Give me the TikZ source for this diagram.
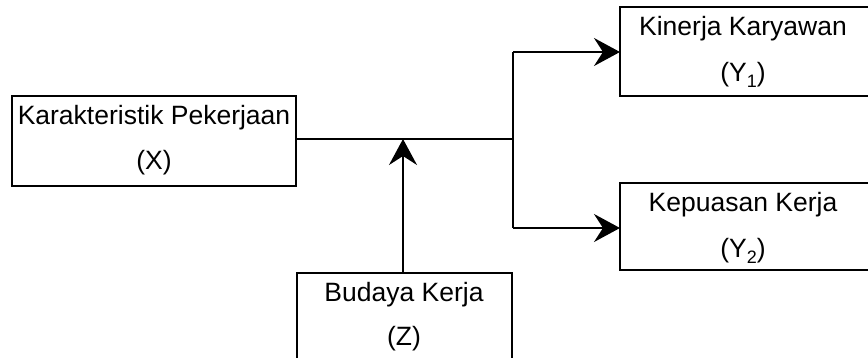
\documentclass[tikz,border=0pt]{standalone}
\usepackage{fontspec}
\setmainfont{Liberation Sans}
\usetikzlibrary{arrows.meta}
\newcommand{\sbs}[1]{\raisebox{-0.2em}{\fontsize{18}{20}\selectfont #1}}
\begin{document}
\begin{tikzpicture}[x=1pt,y=-1pt,
  lbl/.style={font=\fontsize{26.5}{30}\selectfont, inner sep=0pt, anchor=center},
  bx/.style={draw, line width=2pt},
  conn/.style={line width=2pt},
  arr/.style={conn, -{Stealth[length=26pt,width=28pt,inset=9pt]}}]
\useasboundingbox (0,0) rectangle (868,357);
\clip (0,0) rectangle (868,357);
\fill[white] (0,0) rectangle (868,357);
% boxes
\draw[bx] (12,96) rectangle (296,186);
\coordinate (xr) at (296,139);
\node[lbl] (x1) at (154,118) {Karakteristik Pekerjaan};
\node[lbl] (x2) at (154,163) {(X)};

\draw[bx] (620,7) rectangle (880,96);
\coordinate (y1l) at (620,52);
\node[lbl] (y11) at (743,29) {Kinerja Karyawan};
\node[lbl] (y12) at (743,75) {(Y\sbs{1})};

\draw[bx] (620,183) rectangle (880,270);
\coordinate (y2l) at (620,228);
\node[lbl] (y21) at (743,205) {Kepuasan Kerja};
\node[lbl] (y22) at (743,251) {(Y\sbs{2})};

\draw[bx] (297,273) rectangle (512,370);
\coordinate (zt) at (403,273);
\node[lbl] (z1) at (404,295) {Budaya Kerja};
\node[lbl] (z2) at (404,339) {(Z)};

% connectors
\coordinate (br) at (513,139);
\coordinate (bt) at (513,52);
\coordinate (bb) at (513,228);
\coordinate (mid) at (403,139);
\draw[conn] (xr) -- (br);
\draw[conn] (bt) -- (bb);
\draw[arr] (bt) -- (y1l);
\draw[arr] (bb) -- (y2l);
\draw[arr] (zt) -- (mid);
\end{tikzpicture}
\end{document}
